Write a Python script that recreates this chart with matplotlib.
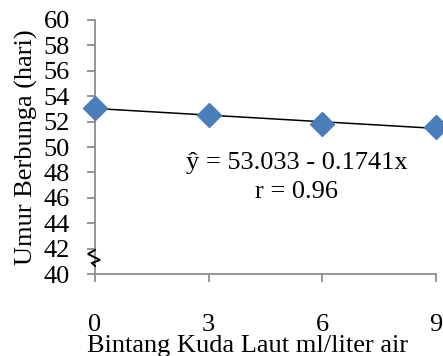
import matplotlib
matplotlib.use("Agg")
import matplotlib.pyplot as plt
import numpy as np

x_vals = [0, 3, 6, 9]
y_vals = [53.05, 52.55, 51.8, 51.55]
y_ticks = [40, 42, 44, 46, 48, 50, 52, 54, 56, 58, 60]
x_ticks = [0, 3, 6, 9]
intercept = 53.033
slope = -0.1741

plt.rcParams['font.family'] = ['Liberation Serif', 'DejaVu Serif']
fig = plt.figure(figsize=(4.43, 3.56), dpi=100)
ax = fig.add_axes([0.2144, 0.230, 0.7696, 0.714])

gray = '#8c8c8c'
fs = 19
xl = np.array([0, 9])
ax.plot(xl, intercept + slope * xl, color='black', lw=1.1, zorder=2)
ax.plot(x_vals, y_vals, linestyle='none', marker='D', markersize=12,
        color='#4a7ebb', zorder=3, clip_on=False)

ax.set_xlim(0, 9)
ax.set_ylim(40, 60)
ax.set_yticks(y_ticks)
ax.set_xticks(x_ticks)
for s in ['top', 'right']:
    ax.spines[s].set_visible(False)
for s in ['left', 'bottom']:
    ax.spines[s].set_color(gray)
    ax.spines[s].set_linewidth(1.3)
ax.tick_params(axis='both', colors=gray, length=6, width=1.3, labelcolor='black', labelsize=fs)
ax.tick_params(axis='y', pad=12)
ax.tick_params(axis='x', pad=23)

ax.set_ylabel('Umur Berbunga (hari)', fontsize=fs, labelpad=4)
ax.set_xlabel('Bintang Kuda Laut ml/liter air', fontsize=fs)
ax.xaxis.set_label_coords(0.449, -0.238)

# axis break symbol
offs = [(0, 0), (-7, -4), (5, -10), (-3, -13), (0, -16)]
base = ax.transData.transform((0, 41.9))
pts = [ax.transData.inverted().transform(base + np.array([dx, dy])) for dx, dy in offs]
ax.plot([p[0] for p in pts], [p[1] for p in pts], color='black', lw=1.4,
        clip_on=False, zorder=4, solid_joinstyle='miter')

ax.text(5.32, 48.75, 'ŷ = 53.033 - 0.1741x', fontsize=fs, ha='center', va='center')
ax.text(5.32, 46.45, 'r = 0.96', fontsize=fs, ha='center', va='center')

fig.savefig('out.png', dpi=100)
